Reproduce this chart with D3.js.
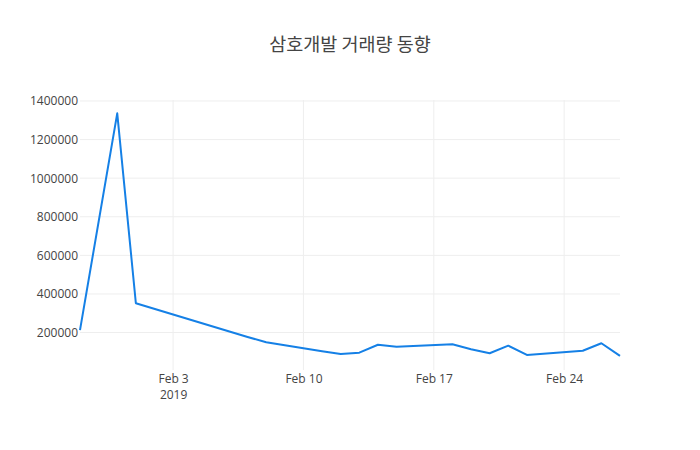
<!DOCTYPE html>
<html>
<head>
<meta charset="utf-8">
<script src="https://d3js.org/d3.v7.min.js"></script>
<style>
  body { margin: 0; background: #fff; }
  svg { display: block; }
</style>
</head>
<body>
<svg id="chart" width="700" height="450"></svg>
<script>
const title = "삼호개발 거래량 동향";
const dates = ["2019-01-29","2019-01-31","2019-02-01","2019-02-07","2019-02-08",
  "2019-02-11","2019-02-12","2019-02-13","2019-02-14","2019-02-15",
  "2019-02-18","2019-02-19","2019-02-20","2019-02-21","2019-02-22",
  "2019-02-25","2019-02-26","2019-02-27"];
const volumes = [213000,1336000,352000,177000,150000,
  103000,89000,96000,137000,127000,
  139000,113500,92700,132000,84000,
  106000,144600,78800];
const yTicks = [200000,400000,600000,800000,1000000,1200000,1400000];
const xTicks = ["2019-02-03","2019-02-10","2019-02-17","2019-02-24"];
const xTickLabels = [["Feb 3","2019"],["Feb 10"],["Feb 17"],["Feb 24"]];
const xRange = ["2019-01-29","2019-02-27"];
const yRange = [6000, 1405000];

const W = 700, H = 450, m = {l:80, r:80, t:100, b:80};
const parse = d3.utcParse("%Y-%m-%d");
const svg = d3.select("#chart");
const font = "'Open Sans', 'Noto Sans', sans-serif";

const x = d3.scaleUtc().domain(xRange.map(parse)).range([m.l, W - m.r]);
const y = d3.scaleLinear().domain(yRange).range([H - m.b, m.t]);

// gridlines
const g = svg.append("g");
g.selectAll("line.yg").data(yTicks).join("line")
  .attr("x1", m.l).attr("x2", W - m.r)
  .attr("y1", d => y(d)).attr("y2", d => y(d))
  .attr("stroke", "#eee").attr("stroke-width", 1);
g.selectAll("line.xg").data(xTicks).join("line")
  .attr("x1", d => x(parse(d))).attr("x2", d => x(parse(d)))
  .attr("y1", m.t).attr("y2", H - m.b)
  .attr("stroke", "#eee").attr("stroke-width", 1);

// y axis labels
const yAxis = d3.axisLeft(y).tickValues(yTicks).tickSize(0).tickPadding(2)
  .tickFormat(d3.format("d"));
svg.append("g").attr("transform", `translate(${m.l},0)`).call(yAxis)
  .call(s => s.select(".domain").remove())
  .call(s => s.selectAll("text").attr("fill", "#444")
      .style("font-family", font).style("font-size", "12px"));

// x axis labels
const xAxis = d3.axisBottom(x).tickValues(xTicks.map(parse)).tickSize(0).tickFormat(() => "");
const xa = svg.append("g").attr("transform", `translate(0,${H - m.b})`).call(xAxis);
xa.select(".domain").remove();
xa.selectAll(".tick").each(function(d, i) {
  const tick = d3.select(this);
  tick.select("text").remove();
  xTickLabels[i].forEach((s, j) => {
    tick.append("text").attr("x", 0).attr("y", 13 + j * 16)
      .attr("text-anchor", "middle").attr("fill", "#444")
      .style("font-family", font).style("font-size", "12px").text(s);
  });
});

// line
const line = d3.line().x((d, i) => x(parse(dates[i]))).y(d => y(d));
svg.append("path").datum(volumes)
  .attr("d", line)
  .attr("fill", "none")
  .attr("stroke", "#1580e6")
  .attr("stroke-width", 2)
  .attr("stroke-linejoin", "round");

// title
svg.append("text").attr("x", W / 2).attr("y", 51)
  .attr("text-anchor", "middle")
  .attr("fill", "#444")
  .style("font-family", "'Noto Sans CJK KR', 'Open Sans', sans-serif")
  .style("font-size", "18.5px")
  .text(title);
</script>
</body>
</html>
